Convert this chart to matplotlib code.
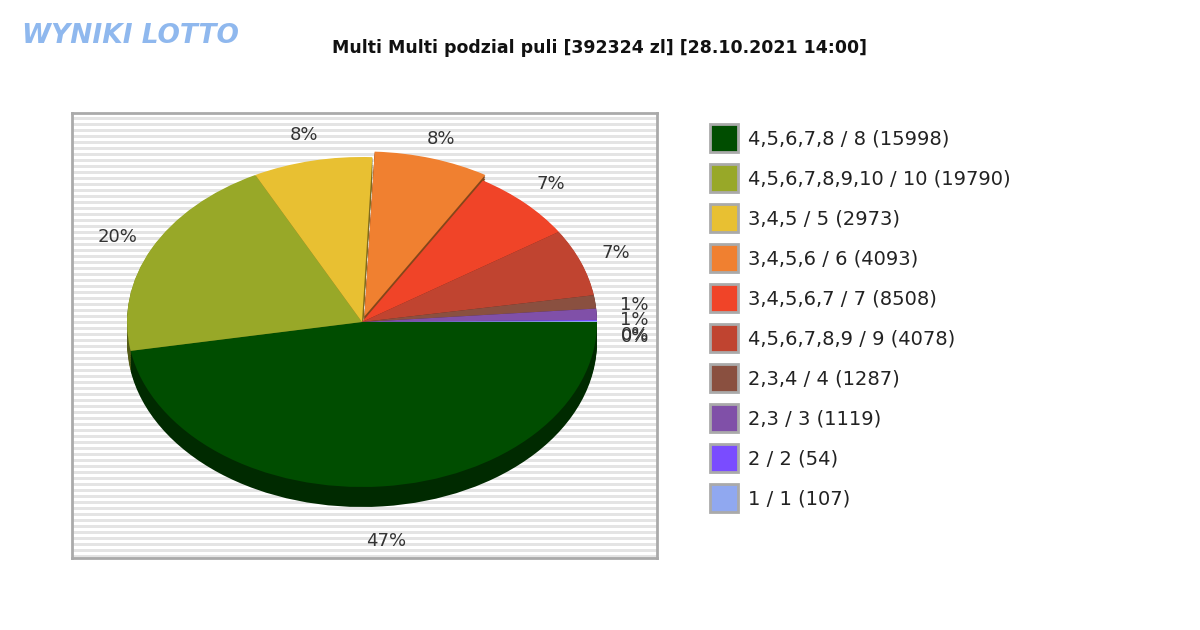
import matplotlib.pyplot as plt
import numpy as np
from matplotlib.colors import to_rgb

title = 'Multi Multi podzial puli [392324 zl] [28.10.2021 14:00]'
legend_labels = [
    '4,5,6,7,8 / 8 (15998)',
    '4,5,6,7,8,9,10 / 10 (19790)',
    '3,4,5 / 5 (2973)',
    '3,4,5,6 / 6 (4093)',
    '3,4,5,6,7 / 7 (8508)',
    '4,5,6,7,8,9 / 9 (4078)',
    '2,3,4 / 4 (1287)',
    '2,3 / 3 (1119)',
    '2 / 2 (54)',
    '1 / 1 (107)',
]
shares = [47.2, 20.3, 8.2, 7.9, 7.2, 6.6, 1.3, 1.1, 0.1, 0.1]
pct_labels = ['47%', '20%', '8%', '8%', '7%', '7%', '1%', '1%', '0%', '0%']
colors = ['#004d00', '#98a828', '#e8c032', '#f08030', '#f04428',
          '#c04430', '#8a5040', '#8050a8', '#7a4cff', '#90a8f0']
explode = [0, 0, 0, 0.035, 0, 0, 0, 0, 0, 0]

W, H = 1200, 630
fig = plt.figure(figsize=(12, 6.3), dpi=100)


def box(x0, y0, x1, y1):
    return [x0 / W, 1 - y1 / H, (x1 - x0) / W, (y1 - y0) / H]


# striped background panel
bg = fig.add_axes(box(72, 113, 657, 558))
bg.set_xlim(0, 1)
bg.set_ylim(0, 445)
for y in range(0, 445, 6):
    bg.axhspan(y, y + 3, color='#e4e4e4', lw=0)
bg.set_xticks([])
bg.set_yticks([])
for s in bg.spines.values():
    s.set_color('#aaaaaa')
    s.set_linewidth(2)

# elliptical pie with depth
ax = fig.add_axes(box(127, 157, 597, 507))
depth = 20 / 165
dark = [tuple(c * 0.55 for c in to_rgb(c)) for c in colors]
for k in np.linspace(depth, 0.005, 12):
    ax.pie(shares, colors=dark, explode=explode, startangle=0, counterclock=False,
           center=(0, -k), frame=True, wedgeprops=dict(lw=0))
wedges, _ = ax.pie(shares, colors=colors, explode=explode, startangle=0,
                   counterclock=False, frame=True, wedgeprops=dict(lw=0))
ax.set_xlim(-1, 1)
ax.set_ylim(-1 - depth, 1)
ax.set_aspect('auto')
ax.set_axis_off()

for i, w in enumerate(wedges):
    ang = np.deg2rad((w.theta1 + w.theta2) / 2)
    r = 1.16
    x, y = r * np.cos(ang), r * np.sin(ang)
    if i >= 6:
        x, y = 1.16, [0.1, 0.01, -0.08, -0.09][i - 6]
    if i == 0:
        y -= depth + 0.05
    ax.text(x, y, pct_labels[i], ha='center', va='center', fontsize=13,
            color='#333333', clip_on=False)

# legend
for i, (lab, c) in enumerate(zip(legend_labels, colors)):
    yc = 138 + 40 * i
    fig.patches.append(plt.Rectangle((710 / W, 1 - (yc + 14) / H), 28 / W, 28 / H,
                                     transform=fig.transFigure, facecolor=c,
                                     edgecolor='#aaaaaa', lw=2))
    fig.text(748 / W, 1 - (yc + 1) / H, lab, fontsize=14, va='center', color='#222222')

fig.text(600 / W, 1 - 48 / H, title, ha='center', va='center', fontsize=12.5,
         fontweight='bold', color='#111111')
fig.text(22 / W, 1 - 36 / H, 'WYNIKI LOTTO', ha='left', va='center', fontsize=19,
         fontweight='bold', color='#8fb8ee', style='italic')

fig.savefig('out.png', dpi=100)
